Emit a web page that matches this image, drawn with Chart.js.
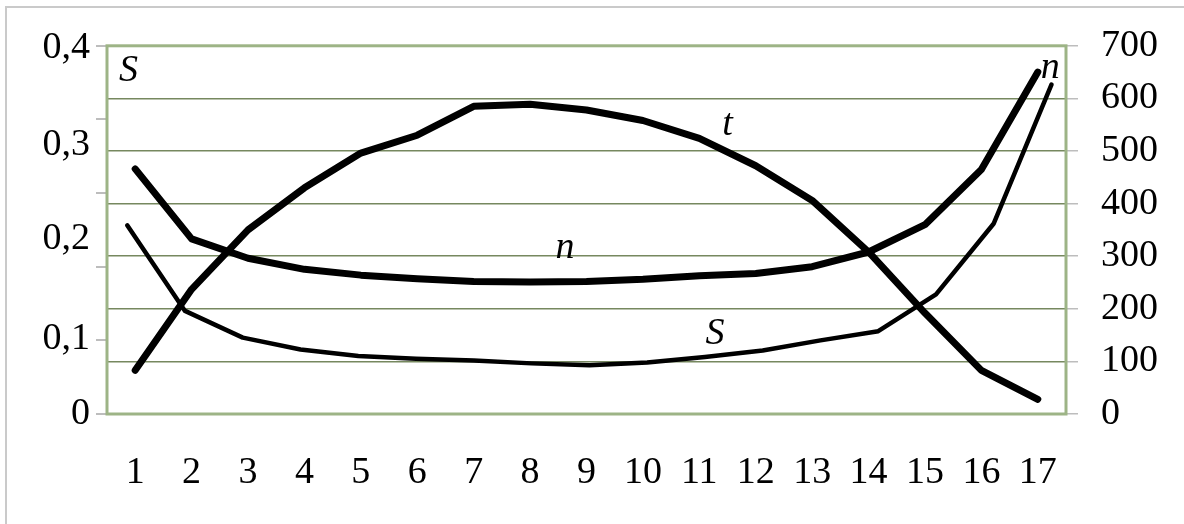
<!DOCTYPE html>
<html>
<head>
<meta charset="utf-8">
<script src="https://cdn.jsdelivr.net/npm/chart.js@4.4.1/dist/chart.umd.min.js"></script>
<style>
  html, body { margin: 0; padding: 0; background: #fff; overflow: hidden; }
  #frame { position: absolute; left: 5px; top: 6px; width: 1300px; height: 600px; border: 2px solid #cacaca; }
  #wrap { position: absolute; left: 0; top: 0; width: 1184px; height: 524px; }
</style>
</head>
<body>
<div id="frame"></div>
<div id="wrap"><canvas id="chart" width="1184" height="524"></canvas></div>
<script>
const categories = ['1', '2', '3', '4', '5', '6', '7', '8', '9', '10', '11', '12', '13', '14', '15', '16', '17'];

// right axis (n, t)
const tValues = [83, 237, 350, 430, 496, 530, 585, 589, 578, 558, 524, 472, 406, 308, 192, 83, 28];
const nValues = [466, 333, 296, 275, 264, 257, 252, 251, 252, 256, 263, 267, 280, 308, 360, 465, 650];
const nTicks = [0, 100, 200, 300, 400, 500, 600, 700];

// left axis (S)
const sValues = [0.205, 0.112, 0.083, 0.070, 0.063, 0.060, 0.058, 0.055, 0.053, 0.056, 0.062, 0.069, 0.080, 0.090, 0.130, 0.207, 0.358];
const sTickMarks = [0, 0.08, 0.16, 0.24, 0.32, 0.4];
const sLabelAt = [0, 0.082, 0.19, 0.292, 0.398];
const sLabelText = ['0', '0,1', '0,2', '0,3', '0,4'];

// curve names: category index, value on the n axis
const notes = [
    {text: 'S', at: -0.12, v: 652},
    {text: 'n', at: 16.22, v: 658},
    {text: 't', at: 10.5, v: 549},
    {text: 'n', at: 7.62, v: 316},
    {text: 'S', at: 10.28, v: 152}
];

const serif = "'Liberation Serif', 'Times New Roman', serif";
const tickFont = {family: serif, size: 38};

const plotBorder = {
    id: 'plotBorder',
    beforeDatasetsDraw(chart) {
        const {ctx, chartArea: a} = chart;
        ctx.save();
        ctx.strokeStyle = '#9db486';
        ctx.lineWidth = 3;
        ctx.strokeRect(a.left, a.top, a.right - a.left, a.bottom - a.top);
        ctx.restore();
    }
};

const curveNames = {
    id: 'curveNames',
    afterDatasetsDraw(chart) {
        const ctx = chart.ctx;
        const x = chart.scales.x, y = chart.scales.yN;
        ctx.save();
        ctx.font = `italic 38px ${serif}`;
        ctx.fillStyle = '#000';
        ctx.textAlign = 'center';
        ctx.textBaseline = 'middle';
        notes.forEach(n => ctx.fillText(n.text, x.getPixelForValue(n.at), y.getPixelForValue(n.v)));
        ctx.restore();
    }
};

new Chart(document.getElementById('chart'), {
    type: 'line',
    data: {
        labels: categories,
        datasets: [{
                label: 't',
                data: tValues,
                yAxisID: 'yN',
                borderColor: '#000',
                borderWidth: 7
            }, {
                label: 'n',
                data: nValues,
                yAxisID: 'yN',
                borderColor: '#000',
                borderWidth: 7
            }, {
                label: 'S',
                data: sValues.map((v, i) => ({x: i + 1, y: v})),
                xAxisID: 'xS',
                yAxisID: 'yS',
                borderColor: '#000',
                borderWidth: 4.5
            }]
    },
    options: {
        responsive: false,
        animation: false,
        layout: {padding: {top: 42, left: 0, right: 0, bottom: 0}},
        elements: {
            point: {radius: 0},
            line: {tension: 0, borderCapStyle: 'round', borderJoinStyle: 'round'}
        },
        plugins: {legend: {display: false}, tooltip: {enabled: false}},
        scales: {
            x: {
                type: 'category',
                offset: true,
                grid: {display: false, drawTicks: false},
                border: {display: false},
                ticks: {font: tickFont, color: '#000', padding: 36, maxRotation: 0, autoSkip: false},
                afterFit: s => { s.height = 110; }
            },
            xS: {
                type: 'linear',
                display: false,
                min: 0.65,
                max: 17.25
            },
            yS: {
                position: 'left',
                weight: 0,
                min: 0,
                max: 0.4,
                afterBuildTicks: s => { s.ticks = sTickMarks.map(v => ({value: v})); },
                ticks: {display: false},
                grid: {drawOnChartArea: false, tickColor: '#bdbdbd', tickLength: 11, lineWidth: 2},
                border: {display: false},
                afterFit: s => { s.width = 11; }
            },
            yLab: {
                position: 'left',
                weight: 1,
                min: 0,
                max: 0.4,
                afterBuildTicks: s => { s.ticks = sLabelAt.map(v => ({value: v})); },
                ticks: {
                    font: tickFont,
                    color: '#000',
                    padding: 6,
                    callback: (v, i) => sLabelText[i]
                },
                grid: {display: false, drawTicks: false},
                border: {display: false},
                afterFit: s => { s.width = 96; }
            },
            yN: {
                position: 'right',
                min: 0,
                max: 700,
                afterBuildTicks: s => { s.ticks = nTicks.map(v => ({value: v})); },
                ticks: {font: tickFont, color: '#000', padding: 23},
                grid: {color: '#76885f', lineWidth: 1.5, tickColor: '#bdbdbd', tickLength: 12},
                border: {display: false},
                afterFit: s => { s.width = 118; }
            }
        }
    },
    plugins: [plotBorder, curveNames]
});
</script>
</body>
</html>
